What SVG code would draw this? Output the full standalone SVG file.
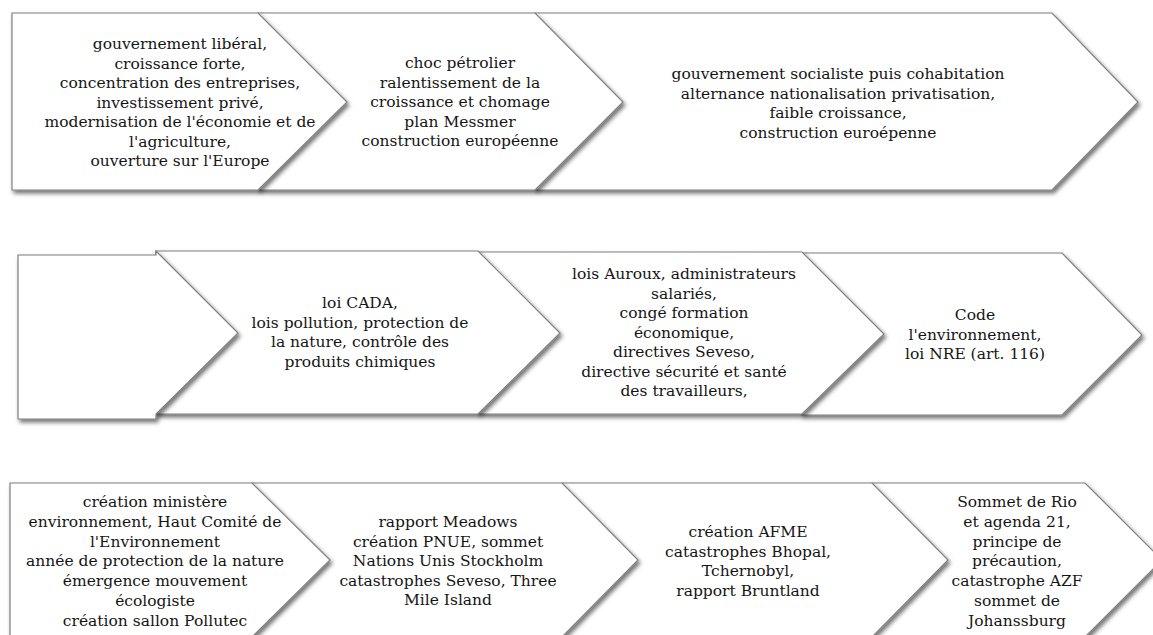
<svg xmlns="http://www.w3.org/2000/svg" width="1153" height="635" viewBox="0 0 1153 635">
<defs>
<filter id="sh" x="-10%" y="-10%" width="130%" height="130%">
<feDropShadow dx="2" dy="3" stdDeviation="2" flood-color="#000" flood-opacity="0.55"/>
</filter>
<style>
.s{fill:#fff;stroke:#7f7f7f;stroke-width:1.2;filter:url(#sh)}
text{font-family:"DejaVu Serif","Liberation Serif",serif;font-size:15.5px;fill:#151515;text-anchor:middle}
</style>
</defs>
<rect width="1153" height="635" fill="#fff"/>
<!-- Row 1 (drawn right to left so earlier shapes overlap) -->
<g id="r1n3"><polygon class="s" points="535,13 1052,13 1138,102 1052,190 535,190"/>
<text><tspan x="838" y="79">gouvernement socialiste puis cohabitation</tspan><tspan x="838" y="98.5">alternance nationalisation privatisation,</tspan><tspan x="838" y="118">faible croissance,</tspan><tspan x="838" y="137.5">construction euroépenne</tspan></text></g>
<g id="r1n2"><polygon class="s" points="258,13 535,13 623,102 535,190 258,190"/>
<text><tspan x="460" y="68">choc pétrolier</tspan><tspan x="460" y="87.5">ralentissement de la</tspan><tspan x="460" y="107">croissance et chomage</tspan><tspan x="460" y="126.5">plan Messmer</tspan><tspan x="460" y="146">construction européenne</tspan></text></g>
<g id="r1n1"><polygon class="s" points="12,13 258,13 347,102 258,190 12,190"/>
<text><tspan x="180" y="49">gouvernement libéral,</tspan><tspan x="180" y="68.5">croissance forte,</tspan><tspan x="180" y="88">concentration des entreprises,</tspan><tspan x="180" y="107.5">investissement privé,</tspan><tspan x="180" y="127">modernisation de l'économie et de</tspan><tspan x="180" y="146.5">l'agriculture,</tspan><tspan x="180" y="166">ouverture sur l'Europe</tspan></text></g>
<!-- Row 2 -->
<g id="r2n4"><polygon class="s" points="802,253 1062,253 1142,335 1062,415 802,415"/>
<text><tspan x="975" y="320">Code</tspan><tspan x="975" y="339.5">l'environnement,</tspan><tspan x="975" y="359">loi NRE (art. 116)</tspan></text></g>
<g id="r2n3"><polygon class="s" points="478,252 802,252 884,334 802,414 478,414"/>
<text><tspan x="684" y="279">lois Auroux, administrateurs</tspan><tspan x="684" y="298.5">salariés,</tspan><tspan x="684" y="318">congé formation</tspan><tspan x="684" y="337.5">économique,</tspan><tspan x="684" y="357">directives Seveso,</tspan><tspan x="684" y="376.5">directive sécurité et santé</tspan><tspan x="684" y="396">des travailleurs,</tspan></text></g>
<g id="r2n2"><polygon class="s" points="156,251 478,251 560,333 478,414 156,414"/>
<text><tspan x="360" y="308">loi CADA,</tspan><tspan x="360" y="327.5">lois pollution, protection de</tspan><tspan x="360" y="347">la nature, contrôle des</tspan><tspan x="360" y="366.5">produits chimiques</tspan></text></g>
<g id="r2n1"><polygon class="s" points="18,255 156,255 156,251 238,333 156,414 156,419 18,419"/></g>
<!-- Row 3 -->
<g id="r3n4"><polygon class="s" points="872,483 1085,483 1162,560 1085,637 872,637"/>
<text><tspan x="1017" y="507">Sommet de Rio</tspan><tspan x="1017" y="526.8">et agenda 21,</tspan><tspan x="1017" y="546.6">principe de</tspan><tspan x="1017" y="566.4">précaution,</tspan><tspan x="1017" y="586.2">catastrophe AZF</tspan><tspan x="1017" y="606">sommet de</tspan><tspan x="1017" y="625.8">Johanssburg</tspan></text></g>
<g id="r3n3"><polygon class="s" points="562,483 872,483 948,560 872,637 562,637"/>
<text><tspan x="748" y="537">création AFME</tspan><tspan x="748" y="556.5">catastrophes Bhopal,</tspan><tspan x="748" y="576">Tchernobyl,</tspan><tspan x="748" y="595.5">rapport Bruntland</tspan></text></g>
<g id="r3n2"><polygon class="s" points="252,483 562,483 638,560 562,637 252,637"/>
<text><tspan x="448" y="527">rapport Meadows</tspan><tspan x="448" y="546.5">création PNUE, sommet</tspan><tspan x="448" y="566">Nations Unis Stockholm</tspan><tspan x="448" y="585.5">catastrophes Seveso, Three</tspan><tspan x="448" y="605">Mile Island</tspan></text></g>
<g id="r3n1"><polygon class="s" points="10,483 252,483 330,560 252,637 10,637"/>
<text><tspan x="155" y="507">création ministère</tspan><tspan x="155" y="526.8">environnement, Haut Comité de</tspan><tspan x="155" y="546.6">l'Environnement</tspan><tspan x="155" y="566.4">année de protection de la nature</tspan><tspan x="155" y="586.2">émergence mouvement</tspan><tspan x="155" y="606">écologiste</tspan><tspan x="155" y="625.8">création sallon Pollutec</tspan></text></g>
<g id="connectors"></g>
</svg>
